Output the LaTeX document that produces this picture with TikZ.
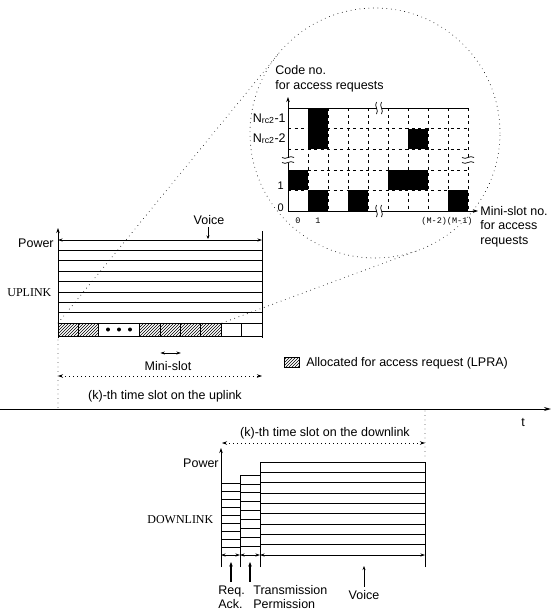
\documentclass[tikz,border=0pt]{standalone}
\usepackage{fontspec}
\setmainfont{Liberation Sans}
\setmonofont{Liberation Mono}
\newfontfamily\linkfont{Liberation Serif}
\usepackage{tikz}
\usetikzlibrary{positioning}
\usetikzlibrary{patterns}
\usetikzlibrary{arrows.meta}

\begin{document}
\begin{tikzpicture}[x=1pt, y=-1pt, line width=0.7pt,
    lbl/.style={font=\fontsize{12.5}{15}\selectfont, inner sep=0pt},
    linklbl/.style={font=\linkfont\fontsize{12}{14}\selectfont, inner sep=0pt},
    ttlbl/.style={font=\ttfamily\fontsize{8.5}{10}\selectfont, inner sep=0pt},
    axisarr/.style={-{Stealth[length=5pt, width=3.5pt]}},
    spanarr/.style={{Stealth[length=5pt, width=3.5pt]}-{Stealth[length=5pt, width=3.5pt]}, dash pattern=on 1pt off 3pt},
    durarr/.style={{Stealth[length=4.5pt, width=3pt]}-{Stealth[length=4.5pt, width=3pt]}, line width=0.6pt},
    gridln/.style={dash pattern=on 3pt off 3.5pt, line width=0.6pt},
    zoomln/.style={line width=0.9pt, line cap=round, dash pattern=on 0pt off 4.5pt},
    hatched/.style={draw, pattern=north east lines},
    brkmark/.pic={
        \fill[white] (-2.5,-6) rectangle (2.5,6);
        \draw[line width=0.7pt] (-2.5,6) .. controls (0.5,2) and (-5.5,-2) .. (-2.5,-6);
        \draw[line width=0.7pt] (2.5,6) .. controls (5.5,2) and (-0.5,-2) .. (2.5,-6);
    }]
    \useasboundingbox (0,0) rectangle (555,611);

    % magnified view of the access-request mini-slots
    \node[circle, draw, zoomln, minimum size=250pt, inner sep=0pt] (lens) at (375,133) {};
    \coordinate (conel) at (58,323);
    \coordinate (coner) at (222,323);
    \coordinate (tanu) at (278.3,53.9);
    \coordinate (tanl) at (418.5,250.2);
    \draw[zoomln] (conel) -- (tanu);
    \draw[zoomln] (coner) -- (tanl);

    \foreach \c/\r/\w/\h in {1/0/1/2, 6/1/1/1, 0/3/1/1, 5/3/2/1, 1/4/1/1, 3/4/1/1, 8/4/1/1}
        \fill (288+\c*20,108+\r*20.6) rectangle ++(\w*20,\h*20.6);
    \foreach \c in {1,...,8}
        \draw[gridln] (288+\c*20,108) -- (288+\c*20,211);
    \foreach \r in {1,...,4}
        \draw[gridln] (288,108+\r*20.6) -- (468,108+\r*20.6);
    \draw[gridln] (468,108) -- (468,211);
    \draw (288,108) -- (468,108);
    \draw[axisarr] (288,211) -- (288,97);
    \draw[axisarr] (288,211) -- (478,211);
    \pic at (379,108) {brkmark};
    \pic at (379,211) {brkmark};
    \pic[rotate=90] at (288,160) {brkmark};
    \pic[rotate=90] at (468,160) {brkmark};

    \node[lbl, anchor=base west] (codeno) at (275,74.5) {Code no.};
    \node[lbl, anchor=base west] (codefor) at ([yshift=-15pt]codeno.base west) {for access requests};
    \node[lbl, anchor=base east] (rowa) at (286,122) {N\textsubscript{rc2}-1};
    \node[lbl, anchor=base east] (rowb) at (286,142) {N\textsubscript{rc2}-2};
    \node[lbl, anchor=base east, font=\fontsize{11}{13}\selectfont] (rowone) at (284,189) {1};
    \node[lbl, anchor=base east, font=\fontsize{11}{13}\selectfont] (rowzero) at (284,211) {0};
    \node[ttlbl, anchor=base] (colzero) at (298,223) {0};
    \node[ttlbl, anchor=base] (colone) at (318,223) {1};
    \node[ttlbl, anchor=base] (collast) at (447,223) {(M-2)(M-1)};
    \node[lbl, anchor=base west] (msno) at (480,215) {Mini-slot no.};
    \node[lbl, anchor=base west] (msfor) at ([yshift=-14.5pt]msno.base west) {for access};
    \node[lbl, anchor=base west] (msreq) at ([yshift=-14.5pt]msfor.base west) {requests};

    % uplink slot
    \node[lbl, anchor=base east] (upower) at (54,247) {Power};
    \node[linklbl, anchor=base west] (uplink) at (7,296) {UPLINK};
    \foreach \i in {1,...,8}
        \draw (58,240+\i*10.375) -- (262,240+\i*10.375);
    \draw[durarr] (58,240) -- (262,240);
    \draw[axisarr] (58,338) -- (58,228);
    \draw (262,231) -- (262,338);
    \draw (58,336) -- (262,336);
    \foreach \a in {0,1,4,5,6,7}
        \draw[hatched] (58+\a*20.4,323) rectangle ++(20.4,13);
    \draw (98.8,323) rectangle (139.6,336);
    \foreach \a in {8,9}
        \draw (58+\a*20.4,323) rectangle ++(20.4,13);
    \foreach \x in {108,119,130}
        \fill (\x,329.5) circle (2pt);
    \node[lbl] (uvoice) at (209,220) {Voice};
    \draw[-{Stealth[length=3.5pt, width=3pt]}] (208,227) -- (208,239);
    \draw[durarr] (160.4,353) -- (180.8,353);
    \node[lbl] (minislot) at (168,366) {Mini-slot};
    \draw[hatched] (284,357) rectangle (299,367);
    \node[lbl, anchor=west] (legend) at (306,363) {Allocated for access request (LPRA)};

    \draw[zoomln] (58,340) -- (58,409);
    \draw[spanarr] (58,376) -- (262,376);
    \node[lbl] (upslot) at (165,396) {(k)-th time slot on the uplink};

    % time axis
    \draw[line width=1pt, -{Stealth[length=7pt, width=4pt]}] (0,409) -- (551,409);
    \node[lbl] (tlbl) at (523,423) {t};

    % downlink slot
    \node[lbl] (downslot) at (325,433) {(k)-th time slot on the downlink};
    \draw[spanarr] (222,443) -- (425,443);
    \draw[zoomln] (425,411) -- (425,460);
    \node[lbl, anchor=base east] (dpower) at (219,467) {Power};
    \node[linklbl, anchor=base west] (downlink) at (147,523) {DOWNLINK};
    \foreach \i in {0,...,8}
        \draw (221,483+\i*8) -- (240,483+\i*8);
    \foreach \i in {0,...,8}
        \draw (240,475+\i*8.89) -- (260,475+\i*8.89);
    \foreach \i in {0,...,8}
        \draw (260,462+\i*10.33) -- (425,462+\i*10.33);
    \draw[axisarr] (221,567) -- (221,448);
    \draw (240,567) -- (240,475);
    \draw (260,567) -- (260,462);
    \draw (425,567) -- (425,462);
    \draw[durarr] (221,555) -- (240,555);
    \draw[durarr] (240,555) -- (260,555);
    \draw[durarr] (260,555) -- (425,555);

    \node[lbl, anchor=base west] (req) at (218,594) {Req.};
    \node[lbl, anchor=base west] (ack) at ([yshift=-14pt]req.base west) {Ack.};
    \node[lbl, anchor=base west] (trans) at (253,594) {Transmission};
    \node[lbl, anchor=base west] (perm) at ([yshift=-14pt]trans.base west) {Permission};
    \node[lbl, anchor=base] (dvoice) at (364,599) {Voice};
    \coordinate (ackslot) at (231,562);
    \coordinate (permslot) at (250,562);
    \coordinate (voiceslot) at (364,566);
    \draw[line width=1.1pt, -{Stealth[length=4.5pt, width=3.5pt]}] (ackslot |- req.north) ++(0,-3) -- (ackslot);
    \draw[line width=1.1pt, -{Stealth[length=4.5pt, width=3.5pt]}] (permslot |- trans.north) ++(0,-3) -- (permslot);
    \draw[-{Stealth[length=4pt, width=3pt]}] (voiceslot |- dvoice.north) ++(0,-3) -- (voiceslot);
\end{tikzpicture}
\end{document}
